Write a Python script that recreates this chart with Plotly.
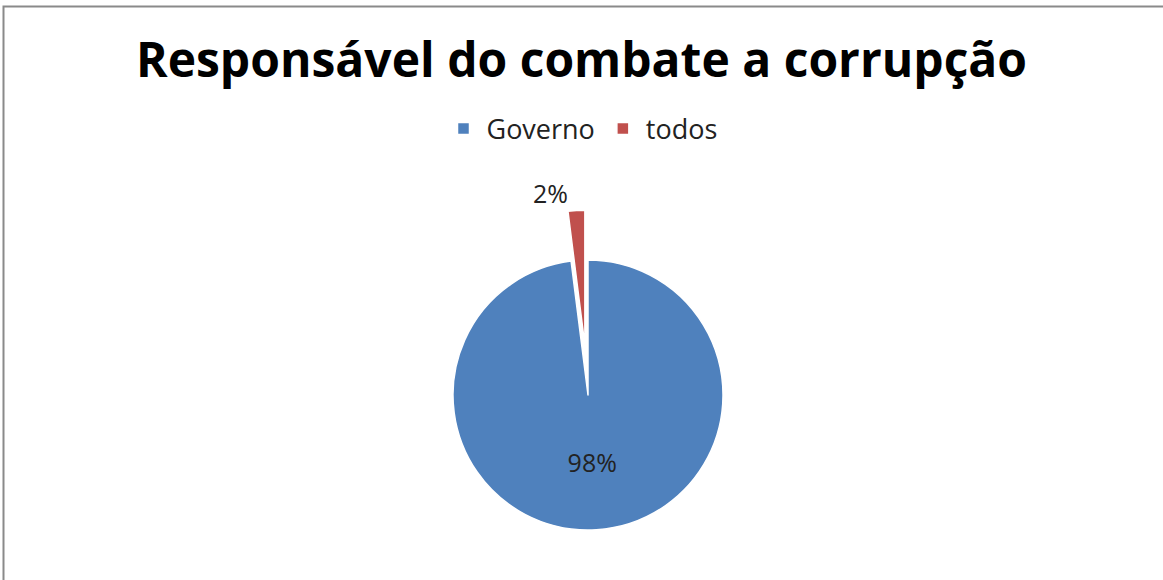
import plotly.graph_objects as go

labels = ["Governo", "todos"]
values = [98, 2]
colors = ["#4F81BD", "#C0504D"]
pulls = [0, 0.37]
text_positions = ["inside", "outside"]

W, H = 1163, 580
cx, cy, r = 588, 395, 135
maxpull = max(pulls)
box = 2 * r * (1 + maxpull)

fig = go.Figure(go.Pie(
    labels=labels,
    values=values,
    marker=dict(colors=colors, line=dict(color="white", width=1.5)),
    pull=pulls,
    sort=False,
    direction="clockwise",
    rotation=0,
    textinfo="percent",
    textposition=text_positions,
    textfont=dict(family="Open Sans", size=25, color="#222222"),
    insidetextorientation="horizontal",
    domain=dict(x=[(cx - box / 2) / W, (cx + box / 2) / W],
                y=[max(0, 1 - (cy + box / 2) / H), 1 - (cy - box / 2) / H]),
    hoverinfo="label+percent",
))

fig.update_layout(
    width=W, height=H,
    margin=dict(l=0, r=0, t=0, b=0, autoexpand=False),
    paper_bgcolor="white",
    plot_bgcolor="white",
    title=dict(text="Responsável do combate a corrupção",
               font=dict(family="Open Sans", size=48, color="black", weight="bold"),
               x=0.5, xanchor="center", y=1 - 60 / H, yanchor="middle", yref="container"),
    legend=dict(orientation="h", x=0.5, xanchor="center", y=1 - 129 / H, yanchor="middle",
                font=dict(family="Open Sans", size=27, color="#222222"),
                itemwidth=36, traceorder="normal"),
    shapes=[dict(type="rect", xref="paper", yref="paper",
                 x0=3.5 / W, x1=1.01, y0=-0.01, y1=1 - 6.5 / H,
                 line=dict(color="#8a8a8a", width=2), fillcolor="rgba(0,0,0,0)", layer="below")],
)

fig.write_html("out.html")
